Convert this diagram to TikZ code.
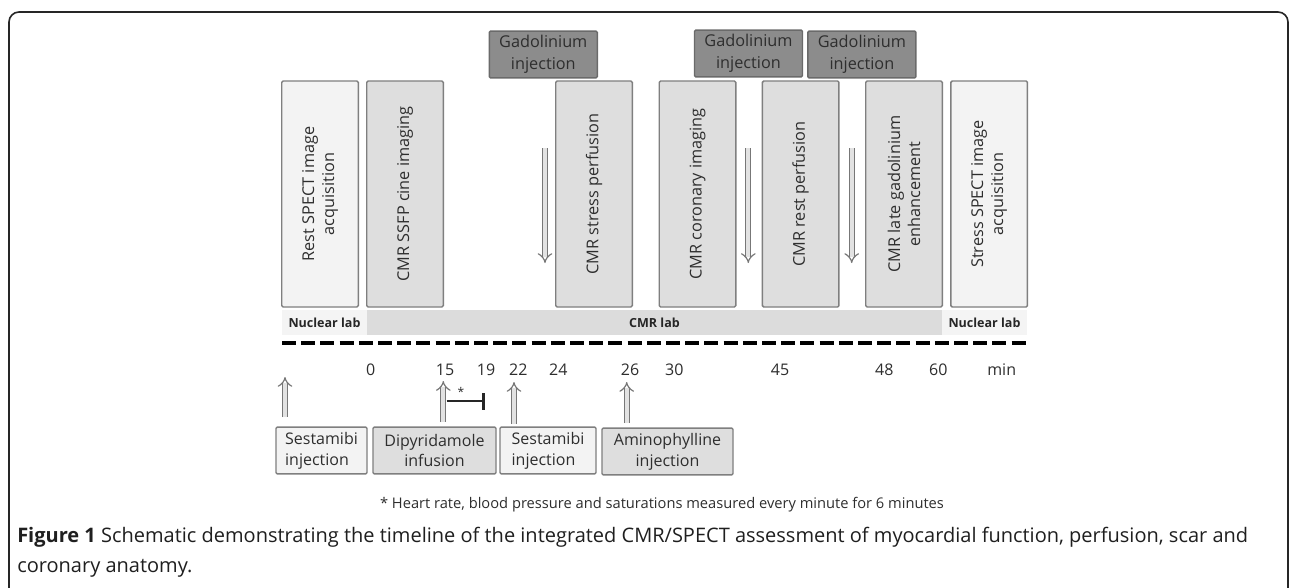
\documentclass[tikz,border=0pt]{standalone}
\usepackage{fontspec}
\setmainfont{Open Sans}
\newfontfamily\capfont{Open Sans}
\usetikzlibrary{arrows.meta}
\definecolor{bord}{HTML}{7F7F7F}
\definecolor{cmrfill}{HTML}{DEDEDE}
\definecolor{nucfill}{HTML}{F3F3F3}
\definecolor{gadfill}{HTML}{8C8C8C}
\definecolor{gadbord}{HTML}{6A6A6A}
\definecolor{txt}{HTML}{2E2E2E}
\definecolor{arrowgray}{HTML}{777777}
\definecolor{arrowin}{HTML}{E2E2E2}
\definecolor{labcmr}{HTML}{DCDCDC}
\definecolor{labnuc}{HTML}{F4F4F4}
\begin{document}
\begin{tikzpicture}[x=0.75pt,y=-0.75pt,
  vbox/.style={draw=bord, line width=1.1pt, rounded corners=1pt, rotate=90,
    minimum width=169.5pt, minimum height=57.4pt, inner sep=0pt, align=center,
    text=txt, font=\fontsize{12.2}{15}\selectfont},
  cmrbox/.style={vbox, fill=cmrfill},
  nucbox/.style={vbox, fill=nucfill},
  gadbox/.style={draw=gadbord, fill=gadfill, line width=1.1pt, rounded corners=1pt,
    minimum width=81pt, minimum height=35.2pt, inner sep=0pt, align=center,
    text=txt, font=\fontsize{12.2}{16.2}\selectfont},
  labbar/.style={minimum height=18.75pt, inner sep=0pt, text=black!85,
    font=\bfseries\fontsize{9.4}{11}\selectfont},
  tick/.style={text=txt, font=\fontsize{12}{14}\selectfont, inner sep=0pt},
  botbox/.style={draw=bord, line width=1.1pt, rounded corners=1pt,
    minimum height=35.2pt, inner sep=0pt, text=txt,
    font=\fontsize{12}{15.6}\selectfont},
  hollow/.style={draw=arrowgray, line width=0.9pt, double=arrowin,
    double distance=2.9pt, -{Implies}},
]
\useasboundingbox (0,0) rectangle (1290,587);
\clip (0,0) rectangle (1290,587);
\fill[white] (0,0) rectangle (1290,587);

% outer frame
\draw[line width=1.2pt, draw=black!85, rounded corners=7.5pt] (9,640) -- (9,12) -- (1288,12) -- (1288,640);

% gadolinium boxes
\node[gadbox] (g1) at (543.3,54.5) {Gadolinium\\injection};
\node[gadbox] (g2) at (748.5,53.5) {Gadolinium\\injection};
\node[gadbox] (g3) at (861.9,54.5) {Gadolinium\\injection};

% vertical boxes
\node[nucbox] (rest)   at (320,194)   {Rest SPECT image\\acquisition};
\node[cmrbox] (ssfp)   at (405,194)   {CMR SSFP cine imaging};
\node[cmrbox] (stress) at (594,194)   {CMR stress perfusion};
\node[cmrbox] (coro)   at (697.5,194) {CMR coronary imaging};
\node[cmrbox] (restp)  at (800.7,194) {CMR rest perfusion};
\node[cmrbox] (lge)    at (904,194)   {CMR late gadolinium\\enhancement};
\node[nucbox] (sspect) at (989.2,194) {Stress SPECT image\\acquisition};

% down arrows
\coordinate (d1s) at (545,148);  \coordinate (d1e) at (545,263);
\coordinate (d2s) at (748.3,148); \coordinate (d2e) at (748.3,263);
\coordinate (d3s) at (851.7,148); \coordinate (d3e) at (851.7,263);
\draw[hollow] (d1s) -- (d1e);
\draw[hollow] (d2s) -- (d2e);
\draw[hollow] (d3s) -- (d3e);

% lab bars
\node[labbar, fill=labnuc, minimum width=63.75pt] (nl1) at (324.5,322.5) {Nuclear lab};
\node[labbar, fill=labcmr, minimum width=431.25pt] (cmrl) at (654.5,322.5) {CMR lab};
\node[labbar, fill=labnuc, minimum width=63.75pt] (nl2) at (984.5,322.5) {Nuclear lab};

% timeline
\coordinate (tl0) at (282,343);
\coordinate (tl1) at (1028,343);
\draw[line width=3.5pt, dash pattern=on 10.5pt off 3.9pt] (tl0) -- (tl1);

% ticks
\node[tick] (t0)  at (370.7,370) {0};
\node[tick] (t15) at (445,370) {15};
\node[tick] (t19) at (486,370) {19};
\node[tick] (t22) at (518.3,370) {22};
\node[tick] (t24) at (558.3,370) {24};
\node[tick] (t26) at (630,370) {26};
\node[tick] (t30) at (674.3,370) {30};
\node[tick] (t45) at (780,370) {45};
\node[tick] (t48) at (884.3,370) {48};
\node[tick] (t60) at (938.3,370) {60};
\node[tick] (tmin) at (1001.7,370) {min};

% bottom boxes
\node[botbox, fill=nucfill, minimum width=68.25pt, align=left] (ses1) at (321.5,450.5) {Sestamibi\\injection};
\node[botbox, fill=cmrfill, minimum width=92.25pt, align=center] (dip) at (434.5,450.5) {Dipyridamole\\infusion};
\node[botbox, fill=nucfill, minimum width=72pt, align=left] (ses2) at (548,450.5) {Sestamibi\\injection};
\node[botbox, fill=cmrfill, minimum width=98.25pt, align=center] (amino) at (667.5,451.5) {Aminophylline\\injection};

% up arrows
\coordinate (u1s) at (285,417);   \coordinate (u1e) at (285,377);
\coordinate (u2s) at (443.3,422); \coordinate (u2e) at (443.3,381);
\coordinate (u3s) at (514,424);   \coordinate (u3e) at (514,382);
\coordinate (u4s) at (626.7,423); \coordinate (u4e) at (626.7,382);
\draw[hollow] (u1s) -- (u1e);
\draw[hollow] (u2s) -- (u2e);
\draw[hollow] (u3s) -- (u3e);
\draw[hollow] (u4s) -- (u4e);

% bracket
\coordinate (b0) at (446.5,401);
\coordinate (b1) at (483.5,401);
\draw[line width=1.6pt, black!85] (b0) -- (b1);
\draw[line width=1.6pt, black!85] ([yshift=6pt]b1) -- ([yshift=-6.8pt]b1);
\node[inner sep=0pt, font=\fontsize{9}{10}\selectfont, text=txt] (star) at (461,392) {*};

% footnote
\node[inner sep=0pt, text=txt, font=\fontsize{11}{13}\selectfont] (foot) at (662,505)
  {* Heart rate, blood pressure and saturations measured every minute for 6 minutes};

% caption
\node[anchor=west, inner sep=0pt, text=black!88, font=\capfont\fontsize{15}{18}\selectfont] (cap1) at (17,537)
  {\textbf{Figure 1} Schematic demonstrating the timeline of the integrated CMR/SPECT assessment of myocardial function, perfusion, scar and};
\node[anchor=west, inner sep=0pt, text=black!88, font=\capfont\fontsize{15}{18}\selectfont] (cap2) at (17,568)
  {coronary anatomy.};
\end{tikzpicture}
\end{document}
